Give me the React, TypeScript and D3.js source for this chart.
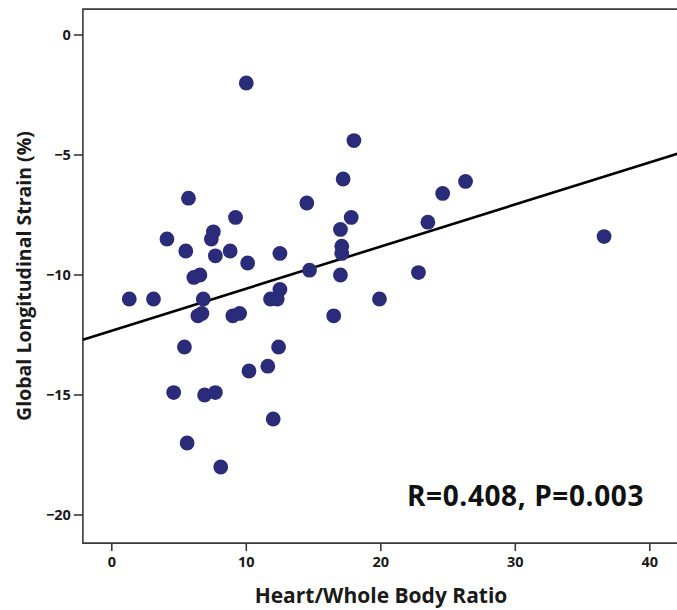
import React, { useEffect, useRef } from 'react';
import * as d3 from 'd3';

// heart/whole body ratio vs global longitudinal strain
const ratio = [
  1.3, 3.1, 10.0, 5.7, 4.1, 5.5, 7.55, 7.4, 9.2, 7.7, 8.8, 10.1, 12.5, 6.1, 6.55, 6.8,
  6.4, 6.7, 9.0, 9.5, 11.8, 12.3, 12.5, 5.4, 12.4, 10.2, 11.6, 4.6, 6.9, 7.7, 12.0, 5.6,
  8.1, 18.0, 17.2, 14.5, 17.8, 17.0, 17.1, 17.1, 14.7, 17.0, 22.8, 19.9, 16.5, 24.6, 26.3,
  23.5, 36.6,
];
const strain = [
  -11.0, -11.0, -2.0, -6.8, -8.5, -9.0, -8.2, -8.5, -7.6, -9.2, -9.0, -9.5, -9.1, -10.1, -10.0, -11.0,
  -11.7, -11.6, -11.7, -11.6, -11.0, -11.0, -10.6, -13.0, -13.0, -14.0, -13.8, -14.9, -15.0, -14.9, -16.0, -17.0,
  -18.0, -4.4, -6.0, -7.0, -7.6, -8.1, -8.8, -9.1, -9.8, -10.0, -9.9, -11.0, -11.7, -6.6, -6.1,
  -7.8, -8.4,
];
const xTicks = [0, 10, 20, 30, 40];
const yTicks = [0, -5, -10, -15, -20];
// fitted line: strain = intercept + slope * ratio
const fitIntercept = -12.32;
const fitSlope = 0.1754;
const annotation = 'R=0.408, P=0.003';

const App = () => {
  const svgRef = useRef<SVGSVGElement>(null);

  useEffect(() => {
    document.body.style.margin = '0';
    document.documentElement.style.overflow = 'hidden';

    const width = 677;
    const height = 610;
    const font = "'Open Sans', 'DejaVu Sans', sans-serif";
    const axisColor = '#3a3a3a';

    const svg = d3.select(svgRef.current);
    svg.selectAll('*').remove();
    svg.attr('width', width).attr('height', height);

    const x = d3.scaleLinear().domain([0, 40]).range([111.8, 649.8]);
    const y = d3.scaleLinear().domain([0, -20]).range([35, 515]);

    // plot box runs off the right edge of the picture
    const left = x(-2.15);
    const top = y(1.08);
    const bottom = y(-21.17);

    svg.append('path')
      .attr('d', `M${width + 5},${top}H${left}V${bottom}H${width + 5}`)
      .attr('fill', 'none')
      .attr('stroke', axisColor)
      .attr('stroke-width', 1.6);

    const xt = svg.append('g').selectAll('g').data(xTicks).enter().append('g')
      .attr('transform', d => `translate(${x(d)},${bottom})`);
    xt.append('line').attr('y2', 8).attr('stroke', axisColor).attr('stroke-width', 1.6);
    xt.append('text')
      .attr('y', 24)
      .attr('text-anchor', 'middle')
      .text(d => d3.format('d')(d));

    const yt = svg.append('g').selectAll('g').data(yTicks).enter().append('g')
      .attr('transform', d => `translate(${left},${y(d)})`);
    yt.append('line').attr('x2', -9).attr('stroke', axisColor).attr('stroke-width', 1.6);
    yt.append('text')
      .attr('x', -12)
      .attr('dy', '0.34em')
      .attr('text-anchor', 'end')
      .text(d => d3.format('d')(d));

    svg.selectAll('g text')
      .style('font-family', font)
      .style('font-size', '14.5px')
      .style('font-weight', 'bold')
      .style('fill', '#1a1a1a');

    // regression line
    const line = d3.line<number>()
      .x(d => x(d))
      .y(d => y(fitIntercept + fitSlope * d));
    svg.append('path')
      .datum([x.invert(left), x.invert(width + 5)])
      .attr('d', line)
      .attr('fill', 'none')
      .attr('stroke', '#000')
      .attr('stroke-width', 2.6);

    svg.append('g')
      .selectAll('circle')
      .data(ratio.map((r, i) => ({ r, s: strain[i] })))
      .enter().append('circle')
      .attr('cx', d => x(d.r))
      .attr('cy', d => y(d.s))
      .attr('r', 7.4)
      .attr('fill', '#2a2c7a');

    svg.append('text')
      .attr('x', 644)
      .attr('y', 506)
      .attr('text-anchor', 'end')
      .style('font-family', font)
      .style('font-size', '28px')
      .style('font-weight', 'bold')
      .style('letter-spacing', '0.6px')
      .style('fill', '#111')
      .text(annotation);

    svg.append('text')
      .attr('x', 381)
      .attr('y', 603)
      .attr('text-anchor', 'middle')
      .style('font-family', font)
      .style('font-size', '21px')
      .style('font-weight', 'bold')
      .style('fill', '#1a1a1a')
      .text('Heart/Whole Body Ratio');

    svg.append('text')
      .attr('transform', 'translate(31,276) rotate(-90)')
      .attr('text-anchor', 'middle')
      .style('font-family', font)
      .style('font-size', '19.5px')
      .style('font-weight', 'bold')
      .style('fill', '#1a1a1a')
      .text('Global Longitudinal Strain (%)');
  }, []);

  return (
    <svg ref={svgRef} style={{ display: 'block', background: '#fff' }}></svg>
  );
};

export default App;
